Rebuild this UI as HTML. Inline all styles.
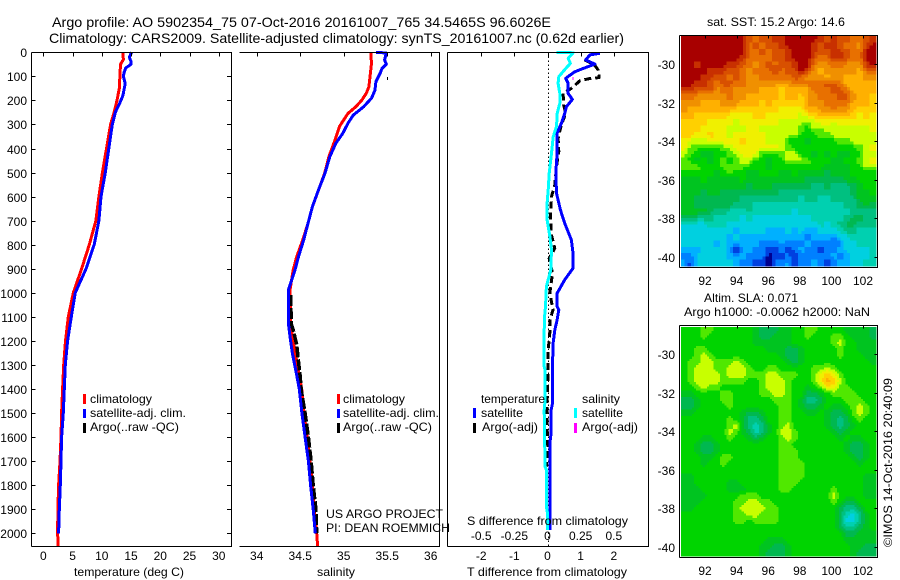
<!DOCTYPE html>
<html lang="en">
<head>
<meta charset="utf-8">
<title>Argo profile 5902354_75</title>
<style>
html,body{margin:0;padding:0;background:#fff;width:900px;height:580px;overflow:hidden}
svg{display:block}
text{font-family:"Liberation Sans",sans-serif;fill:#000;font-size:12px}
.t14{font-size:14px}
.mid{dominant-baseline:middle}
</style>
</head>
<body>
<svg id="fig" width="900" height="580" viewBox="0 0 900 580" xmlns="http://www.w3.org/2000/svg">
<rect x="0" y="0" width="900" height="580" fill="#fff"/>
<text class="t14" x="52" y="27" textLength="499" lengthAdjust="spacingAndGlyphs">Argo profile: AO 5902354_75 07-Oct-2016 20161007_765 34.5465S 96.6026E</text>
<text class="t14" x="49" y="43" textLength="575" lengthAdjust="spacingAndGlyphs">Climatology: CARS2009. Satellite-adjusted climatology: synTS_20161007.nc (0.62d earlier)</text>
<g id="layer-heat"></g>
<g id="layer-plots"></g>
<g id="layer-axes"></g>

<text x="74" y="576" textLength="110" lengthAdjust="spacingAndGlyphs">temperature (deg C)</text>
<text x="317" y="576" textLength="38" lengthAdjust="spacingAndGlyphs">salinity</text>
<text x="467" y="576" textLength="160" lengthAdjust="spacingAndGlyphs">T difference from climatology</text>
<text x="467" y="525" textLength="161" lengthAdjust="spacingAndGlyphs">S difference from climatology</text>

<g>
<rect x="83" y="394" width="3" height="10" fill="#f00"/>
<text x="90" y="403" textLength="62" lengthAdjust="spacingAndGlyphs">climatology</text>
<rect x="83" y="409" width="3" height="9" fill="#00f"/>
<text x="90" y="417" textLength="96" lengthAdjust="spacingAndGlyphs">satellite-adj. clim.</text>
<rect x="83" y="423" width="3" height="10" fill="#000"/>
<text x="90" y="431" textLength="89" lengthAdjust="spacingAndGlyphs">Argo(..raw -QC)</text>
</g>
<g>
<rect x="337" y="394" width="3" height="10" fill="#f00"/>
<text x="343" y="403" textLength="62" lengthAdjust="spacingAndGlyphs">climatology</text>
<rect x="337" y="409" width="3" height="9" fill="#00f"/>
<text x="343" y="417" textLength="96" lengthAdjust="spacingAndGlyphs">satellite-adj. clim.</text>
<rect x="337" y="423" width="3" height="10" fill="#000"/>
<text x="343" y="431" textLength="89" lengthAdjust="spacingAndGlyphs">Argo(..raw -QC)</text>
</g>
<g>
<text x="481" y="403" textLength="64" lengthAdjust="spacingAndGlyphs">temperature</text>
<rect x="473" y="408" width="3" height="10" fill="#00f"/>
<text x="481" y="417" textLength="42" lengthAdjust="spacingAndGlyphs">satellite</text>
<rect x="473" y="423" width="3" height="10" fill="#000"/>
<text x="482" y="431" textLength="56" lengthAdjust="spacingAndGlyphs">Argo(-adj)</text>
<text x="582" y="403" textLength="38" lengthAdjust="spacingAndGlyphs">salinity</text>
<rect x="574" y="408" width="3" height="10" fill="#0ff"/>
<text x="582" y="417" textLength="41" lengthAdjust="spacingAndGlyphs">satellite</text>
<rect x="574" y="423" width="3" height="10" fill="#f0f"/>
<text x="582" y="431" textLength="56" lengthAdjust="spacingAndGlyphs">Argo(-adj)</text>
</g>

<text x="326" y="518" textLength="117" lengthAdjust="spacingAndGlyphs">US ARGO PROJECT</text>
<text x="326" y="532" textLength="124" lengthAdjust="spacingAndGlyphs">PI: DEAN ROEMMICH</text>

<text x="707" y="26" textLength="138" lengthAdjust="spacingAndGlyphs">sat. SST: 15.2 Argo: 14.6</text>
<text x="704" y="302" textLength="94" lengthAdjust="spacingAndGlyphs">Altim. SLA: 0.071</text>
<text x="684" y="316" textLength="186" lengthAdjust="spacingAndGlyphs">Argo h1000: -0.0062 h2000: NaN</text>
<text transform="translate(892,547) rotate(-90)" x="0" y="0" textLength="169" lengthAdjust="spacingAndGlyphs">©IMOS 14-Oct-2016 20:40:09</text>
</svg>

<script>
/* ---------- tick labels ---------- */
const depthTicks = [0,100,200,300,400,500,600,700,800,900,1000,1100,1200,1300,1400,1500,1600,1700,1800,1900,2000];
const tempTicks = [0,5,10,15,20,25,30];
const salTicks = [34,34.5,35,35.5,36];
const tDiffTicks = [-2,-1,0,1,2];
const sDiffTicks = [-0.5,-0.25,0,0.25,0.5];
const lonTicks = [92,94,96,98,100,102];
const latTicks = [-30,-32,-34,-36,-38,-40];

/* ---------- temperature profiles ---------- */
const tempClimDepth = [0,30,50,100,150,200,250,300,400,500,600,700,800,900,1000,1100,1200,1300,1400,1500,1600,1700,1800,1900,2000,2053];
const tempClimValue = [13.57,13.7,13.2,13.1,13.0,12.6,12.1,11.5,10.8,10.1,9.5,9.0,7.86,6.55,5.13,4.27,3.8,3.48,3.3,3.13,3.02,2.85,2.62,2.5,2.45,2.55];
const tempSatDepth = [0,20,40,50,65,85,100,130,180,210,250,300,400,500,600,700,800,900,1000,1100,1200,1300,1400,1500,1600,1700,1800,1900,2000];
const tempSatValue = [15.1,14.7,15.0,15.0,14.1,13.8,13.7,14.0,13.6,13.1,12.3,11.8,11.2,10.6,9.86,9.5,8.7,7.3,5.47,4.79,4.16,3.76,3.59,3.42,3.13,3.02,2.9,2.73,2.62];

/* ---------- salinity profiles ---------- */
const salClimDepth = [0,46,143,170,198,226,254,281,309,365,434,504,573,642,711,780,850,905,988,1127,1182,1252,1321,1400,1500,1600,1700,1800,1900,2000,2053];
const salClimValue = [35.31,35.32,35.29,35.26,35.21,35.14,35.05,35.0,34.95,34.9,34.83,34.78,34.71,34.64,34.59,34.53,34.46,34.42,34.383,34.39,34.413,34.444,34.478,34.517,34.544,34.58,34.613,34.64,34.66,34.69,34.7];
const salSatDepth = [0,3,32,49,67,87,122,157,191,226,261,295,337,378,434,503,572,642,711,780,850,905,988,1127,1182,1252,1321,1400,1500,1600,1700,1800,1900,2000];
const salSatValue = [35.37,35.49,35.47,35.49,35.44,35.42,35.37,35.36,35.32,35.23,35.11,35.05,34.99,34.91,34.84,34.785,34.71,34.64,34.59,34.54,34.48,34.44,34.364,34.364,34.383,34.41,34.448,34.49,34.52,34.556,34.594,34.62,34.65,34.674];
const salArgoDepth = [1010,1078,1127,1154,1216,1278,1348,1400,1500,1600,1700,1800,1900,2000];
const salArgoValue = [34.39,34.394,34.394,34.42,34.46,34.478,34.5,34.51,34.556,34.594,34.625,34.65,34.68,34.69];
const salArgoLoneDepth = [108];
const salArgoLoneValue = [35.5];

/* ---------- difference profiles ---------- */
const tDiffSatDepth = [4,11,32,49,67,81,108,129,171,196,226,254,295,337,420,503,586,655,711,780,835,898,946,1002,1057,1071,1113,1155,1210,1307,1460,1488,1585,1613,1987];
const tDiffSatValue = [1.58,1.28,1.15,1.43,1.08,0.82,0.55,0.62,0.62,0.75,0.57,0.52,0.42,0.29,0.29,0.25,0.27,0.39,0.52,0.72,0.77,0.77,0.52,0.29,0.29,0.34,0.29,0.22,0.17,0.15,0.15,0.11,0.11,0.08,0.08];
const sDiffSatDepth = [0,2,25,46,67,101,129,171,212,254,309,351,420,503,572,628,697,766,822,904,974,1057,1085,1155,1307,1321,1446,1488,1585,1723,1737,1889,1917,1987];
const sDiffSatValue = [0.068,0.193,0.156,0.173,0.138,0.085,0.08,0.093,0.093,0.073,0.068,0.043,0.03,0.013,0.005,-0.003,-0.003,0.018,0.03,0.025,-0.008,-0.015,-0.02,-0.025,-0.025,-0.018,-0.018,-0.025,-0.023,-0.018,-0.008,-0.008,0,0];
const tDiffArgoDepth = [32,53,74,105,109,118,150,171,220,254,302,357,412,475,551,600,690,760,815,857,918,1002,1071,1113,1168,1238,1307,1362,1446,1502,1570,1640,1723];
const tDiffArgoValue = [1.12,1.42,1.53,1.56,1.28,0.98,0.72,0.47,0.49,0.55,0.42,0.32,0.34,0.27,0.22,0.12,0.09,0.12,0.22,0.05,0.15,0.07,0.17,0.07,0.07,0.02,0.02,0.01,-0.01,-0.01,-0.01,0.01,-0.03];
const sDiffArgoDepth = [108];
const sDiffArgoValue = [0.19];

/* ---------- colour level scale ---------- */
const levelColours = ['#a80000','#c83000','#d85000','#e87000','#f09000','#ffb000','#ffd000','#f0f000','#c8ff00','#50e800','#00d400','#00c420','#00b850','#00c080','#00d0b0','#00d0e0','#00b0ff','#0080ff','#0040e0','#000090'];

/* ---------- satellite SST map (colour level per cell) ---------- */
const sstLevels = [
[0,0,0,0,0,0,0,0,0,0,2,3,2,2,1,1,0,0,0,0,0,1,2,1,2,2,3,3,2,1],
[0,0,0,0,0,0,0,0,0,0,3,2,3,2,2,1,0,0,0,0,1,2,1,1,2,3,3,4,1,0],
[0,0,0,0,0,0,0,0,0,0,3,3,2,3,2,2,1,0,0,0,1,2,2,1,1,2,3,3,0,0],
[0,0,0,0,0,0,0,0,0,1,3,3,3,3,2,2,1,0,0,0,2,3,3,1,1,2,3,3,0,0],
[0,0,1,0,0,0,0,1,1,2,3,4,3,2,3,2,2,1,0,0,3,4,4,3,3,4,4,4,1,0],
[0,0,0,0,1,1,1,2,2,3,4,3,3,3,1,3,2,2,0,2,4,5,4,4,4,4,4,5,3,3],
[0,0,0,1,1,2,2,3,2,3,4,4,3,3,3,3,3,2,3,4,4,4,5,4,4,5,5,5,4,4],
[0,0,1,1,2,3,2,2,3,3,4,4,4,4,4,5,4,3,3,3,3,3,2,2,3,5,5,5,5,5],
[1,1,2,2,2,4,3,3,4,4,4,4,5,5,5,6,5,5,5,5,3,3,3,2,2,3,5,5,5,5],
[3,3,4,4,4,4,4,3,4,4,5,5,5,5,5,6,5,5,6,4,4,3,3,3,2,2,4,5,5,6],
[4,4,4,5,5,5,4,4,4,5,5,5,6,5,6,6,6,6,6,4,4,4,3,3,3,3,5,5,5,6],
[4,5,5,5,5,5,5,5,6,6,6,6,6,6,6,7,7,7,7,5,5,4,4,3,4,4,5,6,6,6],
[5,5,6,6,6,6,6,7,7,7,7,6,6,7,7,7,7,7,8,7,6,5,5,5,6,5,6,7,6,7],
[6,6,6,6,7,7,7,7,8,7,7,7,7,7,7,8,8,8,8,9,8,7,7,8,7,7,7,7,7,7],
[6,6,6,7,7,7,7,8,8,8,7,7,8,8,8,8,8,8,9,10,8,9,8,8,8,8,8,8,8,7],
[6,6,7,7,6,7,7,8,7,7,7,7,7,8,8,8,8,8,10,10,10,9,9,8,8,8,8,8,8,8],
[7,8,8,8,7,7,7,7,7,6,7,7,7,8,8,8,10,10,10,11,10,10,10,10,9,9,8,8,8,8],
[7,9,9,10,10,10,9,8,7,7,7,7,7,7,7,8,9,10,10,10,10,10,10,10,10,10,10,9,8,7],
[8,9,10,11,11,10,10,9,8,7,7,7,10,10,10,9,8,8,10,10,11,10,11,10,11,11,10,10,8,8],
[9,10,11,10,11,10,9,10,9,8,8,10,10,11,10,10,8,8,8,9,10,10,10,11,11,10,10,9,8,7],
[9,8,9,10,10,10,9,9,9,9,10,10,10,11,10,10,10,10,10,10,10,10,11,11,11,11,10,10,8,8],
[10,10,10,10,10,11,10,9,10,10,11,11,10,10,10,11,11,10,11,11,11,11,12,11,11,11,10,10,10,10],
[11,11,11,10,11,11,11,11,11,10,11,11,11,11,11,11,11,11,11,12,12,12,12,12,12,11,11,10,10,10],
[11,11,11,11,11,11,11,11,11,11,12,11,11,11,12,12,12,12,12,12,13,13,12,13,13,13,12,11,10,10],
[11,11,11,12,11,11,12,12,12,12,12,12,12,12,12,13,13,13,13,13,13,13,13,13,13,13,12,11,11,10],
[11,11,12,12,12,12,12,12,12,13,13,13,13,13,13,13,13,13,14,13,13,14,14,13,13,13,13,11,11,11],
[11,11,12,12,12,12,12,12,13,13,13,14,14,14,14,14,14,14,14,14,14,14,14,14,14,13,13,12,11,12],
[11,11,11,11,12,13,13,14,14,14,13,14,14,14,14,14,14,15,14,14,14,14,14,14,14,14,13,13,13,13],
[12,12,13,13,13,14,14,14,14,15,14,15,15,15,15,15,15,15,15,15,14,14,14,14,14,13,12,12,13,13],
[15,15,15,15,14,14,14,15,15,15,15,15,15,15,15,15,15,15,15,15,15,14,15,14,13,12,12,13,13,13],
[15,15,15,15,15,15,15,15,16,15,15,15,15,16,16,16,15,16,15,16,16,15,15,15,14,13,13,14,14,14],
[15,15,15,15,15,15,15,16,15,16,16,16,16,16,16,16,16,16,16,17,16,16,16,17,15,15,14,14,14,14],
[15,15,15,15,15,16,15,16,16,16,16,16,17,17,17,16,17,17,17,16,17,17,17,17,17,15,15,14,14,14],
[16,16,17,15,15,15,15,16,19,16,16,17,17,18,18,17,18,17,16,17,17,18,17,17,16,15,15,15,15,14],
[17,17,15,15,15,15,15,16,16,16,17,17,17,19,18,18,17,19,17,17,17,17,17,16,17,16,15,15,15,14],
[16,18,15,15,15,15,15,15,16,17,17,18,18,19,17,17,16,18,17,17,16,17,18,17,16,16,15,15,14,14]
];

/* ---------- altimeter SLA map (colour level per cell) ---------- */
const slaLevels = [
[10,10,10,9,9,10,10,10,10,10,10,11,12,12,12,11,11,10,10,9,9,10,10,10,10,11,11,11,11,12],
[10,10,10,9,10,10,10,10,10,10,10,11,12,12,11,11,11,10,10,9,10,10,10,9,9,10,11,11,11,12],
[10,10,10,10,10,10,10,10,10,10,10,11,11,11,11,11,11,10,10,10,10,10,10,9,8,10,10,11,11,11],
[10,10,9,9,10,10,10,10,10,10,10,10,10,11,11,11,12,12,11,10,10,10,10,10,9,10,10,11,11,11],
[10,10,9,8,9,10,10,10,10,10,10,10,10,10,10,11,12,12,11,10,10,10,10,10,9,10,10,10,11,11],
[10,9,9,8,8,9,9,9,8,9,10,10,10,10,10,10,11,12,11,10,10,10,10,10,10,10,10,10,10,11],
[10,9,8,8,8,9,9,8,8,8,9,10,10,9,9,10,10,10,10,10,9,9,8,9,10,10,10,10,10,10],
[10,9,8,8,8,8,9,8,8,8,9,9,9,8,8,9,9,9,10,10,9,7,6,7,9,10,10,10,10,10],
[10,9,8,8,8,8,9,9,9,9,10,10,9,8,8,8,9,10,10,10,9,7,5,6,8,10,10,10,10,10],
[10,10,9,8,9,9,10,10,10,10,10,10,9,8,8,8,9,10,10,11,10,9,7,7,9,9,10,10,10,10],
[11,11,10,10,10,10,9,9,10,10,10,10,9,9,8,8,9,10,10,12,12,11,10,9,9,9,9,10,10,10],
[12,12,11,10,10,10,9,9,10,10,10,10,10,10,9,9,9,10,11,13,13,12,10,10,10,9,9,9,10,10],
[12,12,11,10,10,10,10,9,10,10,10,10,10,10,10,9,9,10,11,12,12,11,10,11,11,10,9,8,9,10],
[11,11,10,10,10,10,10,10,10,11,12,12,11,10,10,9,9,10,10,11,11,10,11,12,12,11,9,8,9,10],
[10,10,10,10,10,10,10,9,10,11,13,13,12,10,10,9,9,10,10,10,10,10,11,12,13,12,10,9,10,10],
[10,10,10,10,10,10,10,9,8,11,13,14,13,11,10,9,8,10,10,10,10,10,11,12,13,12,11,10,10,10],
[10,10,10,10,10,10,10,8,9,11,12,14,13,11,10,8,8,9,10,10,10,10,10,11,12,11,10,10,10,10],
[10,10,10,11,11,10,10,9,10,10,11,12,11,10,10,9,8,9,10,10,10,10,10,10,11,10,11,11,10,10],
[10,10,11,12,12,11,10,10,10,10,10,10,10,10,10,9,9,10,10,10,10,10,10,10,10,11,12,12,11,10],
[10,10,11,12,12,11,10,10,10,10,10,10,10,10,10,9,9,9,10,10,10,10,10,10,10,11,12,12,11,10],
[10,10,10,11,11,10,9,9,10,10,10,10,10,10,10,9,9,9,10,10,10,10,10,10,10,10,11,12,11,10],
[10,10,10,11,10,10,9,10,10,10,10,10,10,10,10,9,9,9,9,10,10,10,10,10,10,10,10,11,10,10],
[10,10,10,10,10,10,10,10,10,10,10,10,10,10,10,9,9,9,9,10,10,10,10,10,10,10,10,10,10,10],
[11,11,10,10,10,10,10,10,10,10,10,10,10,10,10,9,9,9,9,10,10,10,10,10,10,10,10,10,11,11],
[11,11,10,10,10,10,10,11,11,10,10,10,10,10,10,9,9,9,10,10,10,10,10,10,10,10,10,10,11,11],
[11,11,11,10,10,10,10,11,11,11,10,10,10,10,10,9,9,10,10,10,10,10,10,9,10,10,10,10,11,11],
[11,11,11,11,10,10,10,10,10,9,9,9,10,10,10,10,10,10,10,10,10,10,10,8,10,10,10,10,11,11],
[11,11,11,10,10,10,10,10,9,9,8,8,9,9,10,10,10,10,10,10,10,10,10,9,10,12,12,10,10,10],
[11,11,10,10,10,10,10,10,9,8,8,8,8,9,9,10,10,10,10,10,10,10,10,10,12,13,13,12,10,10],
[10,10,10,10,10,10,10,10,9,9,8,8,9,9,9,10,10,10,10,10,10,10,10,10,12,14,15,13,11,10],
[10,10,10,10,10,10,10,10,9,9,10,9,9,9,9,10,10,10,10,10,10,10,10,10,12,15,15,13,11,10],
[10,10,10,10,10,10,10,10,10,10,10,10,10,10,10,10,10,10,10,10,10,10,10,10,12,13,13,12,11,10],
[10,10,10,10,10,10,10,10,10,10,10,10,10,10,10,10,10,10,10,10,10,10,10,10,10,12,12,11,11,11],
[10,10,10,10,10,10,10,10,10,10,10,10,10,11,11,11,10,10,10,10,10,10,10,10,10,11,11,11,11,11],
[10,10,10,10,10,10,10,10,10,10,10,10,11,11,12,12,11,10,10,10,10,10,10,10,10,10,11,11,12,12],
[10,10,10,10,10,10,10,10,10,10,10,10,11,12,12,12,11,10,10,10,10,10,10,10,10,10,11,12,12,12]
];

/* ---------- axis functions ---------- */
function yDepth(d){ return 52.3 + 0.2405 * d; }
function xTemp(v){ return 43.3 + 5.85 * v; }
function xSal(v){ return 256.7 + 87 * (v - 34); }
function xTDiff(v){ return 547.5 + 33.15 * v; }
function xSDiff(v){ return 547.5 + 132.6 * v; }
function xLon(v){ return 705 + 15.8 * (v - 92); }
function ySstLat(v){ return 64.3 + 19.27 * (-30 - v); }
function ySlaLat(v){ return 354 + 19.3 * (-30 - v); }

const NS = 'http://www.w3.org/2000/svg';
const heatLayer = document.getElementById('layer-heat');
const plotLayer = document.getElementById('layer-plots');
const axesLayer = document.getElementById('layer-axes');

function make(tag, parent, props){
  const el = document.createElementNS(NS, tag);
  for (const k in props) el.setAttribute(k, props[k]);
  parent.appendChild(el);
  return el;
}
function hLine(parent, x1, x2, y){
  return make('line', parent, {x1:x1, x2:x2, y1:y, y2:y, stroke:'#000', 'stroke-width':1, 'shape-rendering':'crispEdges'});
}
function vLine(parent, x, y1, y2){
  return make('line', parent, {x1:x, x2:x, y1:y1, y2:y2, stroke:'#000', 'stroke-width':1, 'shape-rendering':'crispEdges'});
}
function label(parent, x, y, str, anchor){
  const t = make('text', parent, {x:x, y:y, 'text-anchor':anchor});
  t.textContent = str;
  return t;
}
function curve(xFn, values, depths, colour, width, dash){
  const pts = values.map((v, i) => xFn(v).toFixed(1) + ',' + yDepth(depths[i]).toFixed(1)).join(' ');
  const p = make('polyline', plotLayer, {points:pts, fill:'none', stroke:colour, 'stroke-width':width, 'shape-rendering':'crispEdges', 'stroke-linejoin':'round'});
  if (dash) p.setAttribute('stroke-dasharray', dash);
  return p;
}
function lone(xFn, value, depth, colour){
  return make('rect', plotLayer, {x:xFn(value).toFixed(1), y:(yDepth(depth)-1.5).toFixed(1), width:1, height:3, fill:colour, 'shape-rendering':'crispEdges'});
}

/* ---------- profile marks ---------- */
let mark;
mark = curve(xTemp, tempClimValue, tempClimDepth, '#f00', 3);


mark = curve(xTemp, tempSatValue, tempSatDepth, '#00f', 3);



mark = curve(xSal, salClimValue, salClimDepth, '#f00', 3);


mark = curve(xSal, salArgoValue, salArgoDepth, '#000', 3.5, '11 2');


mark = curve(xSal, salSatValue, salSatDepth, '#00f', 3);


mark = lone(xSal, salArgoLoneValue[0], salArgoLoneDepth[0], '#000');



const zeroLine = make('line', plotLayer, {x1:548.5, x2:548.5, y1:yDepth(0), y2:546, stroke:'#000', 'stroke-width':1, 'stroke-dasharray':'1.5 2.5', 'shape-rendering':'crispEdges'});



mark = curve(xTDiff, tDiffArgoValue, tDiffArgoDepth, '#000', 3, '7 4');


mark = curve(xTDiff, tDiffSatValue, tDiffSatDepth, '#00f', 3);


mark = curve(xSDiff, sDiffSatValue, sDiffSatDepth, '#0ff', 3);


mark = lone(xSDiff, sDiffArgoValue[0], sDiffArgoDepth[0], '#f0f');



/* ---------- heat maps: each grid value is resampled bilinearly to finer cells ---------- */
function sampleGrid(grid, u, v){
  const rows = grid.length, cols = grid[0].length;
  const cu = Math.max(0, Math.min(cols - 1, u));
  const cv = Math.max(0, Math.min(rows - 1, v));
  const c0 = Math.floor(cu), r0 = Math.floor(cv);
  const c1 = Math.min(cols - 1, c0 + 1), r1 = Math.min(rows - 1, r0 + 1);
  const fu = cu - c0, fv = cv - r0;
  const top = grid[r0][c0] * (1 - fu) + grid[r0][c1] * fu;
  const bot = grid[r1][c0] * (1 - fu) + grid[r1][c1] * fu;
  return top * (1 - fv) + bot * fv;
}
function drawMap(grid, left, top, width, height, sub, cellName){
  const rows = grid.length * sub, cols = grid[0].length * sub;
  const cw = width / cols, ch = height / rows;
  for (let r = 0; r < rows; r++) {
    for (let c = 0; c < cols; c++) {
      const lev = Math.round(sampleGrid(grid, (c + 0.5) / sub - 0.5, (r + 0.5) / sub - 0.5));
      const cell = make('rect', heatLayer, {
        x:(left + c * cw).toFixed(2), y:(top + r * ch).toFixed(2),
        width:(cw + 0.5).toFixed(2), height:(ch + 0.5).toFixed(2),
        fill:levelColours[lev], 'shape-rendering':'crispEdges'
      });
      
      
    }
  }
}
drawMap(sstLevels, 681, 36, 195, 230, 2, 'sst-map-cell');
drawMap(slaLevels, 681, 327, 195, 229, 3, 'sla-map-cell');

/* ---------- axes ---------- */
function box(left, right, top, bottom, hasLeft, name){
  const g = make('g', axesLayer, {});
  
  
  hLine(g, left, right + 0.5, top);
  hLine(g, left, right + 0.5, bottom);
  vLine(g, right, top, bottom);
  if (hasLeft) vLine(g, left, top, bottom);
  return g;
}
const tempAxis = box(31.5, 231.5, 52.5, 546.5, true, 'temperature-axes');
depthTicks.forEach(d => {
  const y = Math.round(yDepth(d)) + 0.5;
  hLine(tempAxis, 31.5, 35.5, y);
  hLine(tempAxis, 227, 231.5, y);
  const t = label(tempAxis, 27, y + 4.5, String(d), 'end');
  
  
});
tempTicks.forEach(v => {
  vLine(tempAxis, Math.round(xTemp(v)) + 0.5, 52.5, 56.5);
  const t = label(tempAxis, xTemp(v), 560, String(v), 'middle');
  
  
});

const salAxis = box(239.5, 439.5, 52.5, 546.5, false, 'salinity-axes');
salTicks.forEach(v => {
  vLine(salAxis, Math.round(xSal(v)) + 0.5, 52.5, 56.5);
  const t = label(salAxis, xSal(v), 560, String(v), 'middle');
  
  
});

const diffAxis = box(447.5, 648.5, 52.5, 546.5, true, 'difference-axes');
tDiffTicks.forEach(v => {
  vLine(diffAxis, Math.round(xTDiff(v)) + 0.5, 52.5, 56.5);
  const t = label(diffAxis, xTDiff(v), 560, String(v), 'middle');
  
  
});
sDiffTicks.forEach(v => {
  const t = label(diffAxis, xSDiff(v), 540, String(v), 'middle');
  
  
});

function mapAxes(top, bottom, yLat, labelY, name){
  const g = box(679.5, 877.5, top, bottom, true, name);
  lonTicks.forEach(v => {
    const x = Math.round(xLon(v)) + 0.5;
    vLine(g, x, top, top + 3);
    const t = label(g, xLon(v), labelY, String(v), 'middle');
    
    
  });
  latTicks.forEach(v => {
    const y = Math.round(yLat(v)) + 0.5;
    hLine(g, 877.5, 874.5, y);
    const t = label(g, 675, y + 4.5, String(v), 'end');
    
    
  });
}
mapAxes(35.5, 267.5, ySstLat, 285, 'sst-map-axes');
mapAxes(325.5, 557.5, ySlaLat, 575, 'sla-map-axes');
</script>
</body>
</html>
